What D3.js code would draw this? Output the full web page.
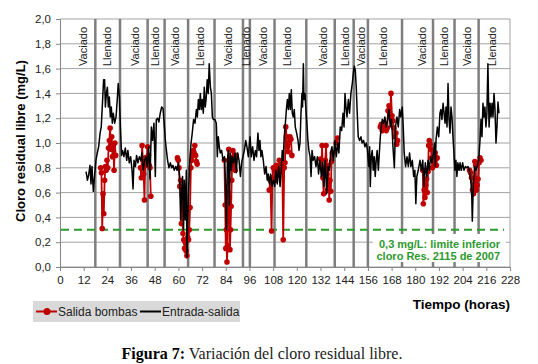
<!DOCTYPE html>
<html>
<head>
<meta charset="utf-8">
<script src="https://cdn.jsdelivr.net/npm/d3@7"></script>
<style>
  body { margin: 0; background: #fff; }
  svg text { font-family: "Liberation Sans", Arial, sans-serif; }
</style>
</head>
<body>
<svg id="chart" width="538" height="364"></svg>
<script>
// limites de las fases (horas) y etiquetas de cada fase
const phaseHours = [17.9, 30.4, 44.4, 53.0, 64.9, 78.3, 92.7, 96.2, 108.7, 124.8, 139.2, 148.8, 156.0, 173.3, 189.0, 199.9, 212.1];
const phaseLabels = ["Vaciado", "Llenado", "Vaciado", "Llenado", "Vaciado", "Llenado", "Vaciado", "Llenado", "Vaciado",
  "Llenado", "Vaciado", "Llenado", "Vaciado", "Llenado", "Vaciado", "Llenado", "Vaciado", "Llenado"];
const labelHours = [11.7, 23.8, 38.0, 48.1, 58.3, 70.9, 85.1, 94.2, 102.8, 115.0, 133.2, 144.4, 152.5, 163.6, 183.4, 194.5, 206.2, 218.8];

const xTicks = d3.range(0, 229, 12);
const yTicks = d3.range(0, 2.01, 0.2);
const limite = 0.3;

// Entrada-salida [hora, mg/L]
const entradaSalida = [
  [13.2,0.77],[13.9,0.70],[14.5,0.74],[15.2,0.82],[15.7,0.67],[16.2,0.81],[16.9,0.61],[17.6,0.75],[18.2,0.86],[18.9,0.92],
  [19.6,0.97],[20.3,1.08],[20.9,1.13],[21.6,1.35],[22.1,1.51],[22.6,1.51],[23.0,1.29],[23.5,1.40],[24.0,1.45],[24.5,1.29],
  [25.0,1.37],[25.5,1.21],[26.0,1.29],[26.5,1.16],[27.0,1.24],[27.7,1.16],[28.4,1.21],[29.0,1.35],[29.5,1.48],[30.1,1.37],
  [30.6,1.13],[31.2,0.90],[31.7,0.94],[32.4,0.89],[33.1,0.96],[33.8,0.86],[34.4,0.94],[35.1,0.84],[35.8,0.89],[36.5,0.78],
  [37.0,0.63],[37.5,0.86],[38.2,0.81],[38.8,0.90],[39.5,0.84],[40.2,0.89],[40.9,0.86],[41.5,0.92],[42.2,0.78],[42.9,0.86],
  [43.6,0.89],[44.2,0.81],[44.9,0.97],[45.6,0.71],[46.3,1.13],[46.9,1.02],[47.6,1.16],[48.3,0.73],[48.8,1.19],[49.5,1.20],
  [50.1,1.17],[50.8,1.24],[51.5,1.29],[52.2,1.28],[52.9,1.13],[53.5,1.00],
  [54.5,0.86],[55.2,0.80],[55.9,0.84],[56.6,0.80],[57.2,0.82],[57.9,0.78],[58.6,0.81],[59.3,0.78],[59.9,0.84],[60.6,0.73],
  [61.1,0.38],[61.6,0.59],[62.1,0.73],[62.6,0.30],[63.0,0.70],[63.5,0.38],[64.0,0.78],[64.3,0.08],[65.0,0.54],[65.7,0.84],
  [66.4,1.00],[67.0,1.08],[67.7,1.19],[68.4,1.16],[69.1,1.27],[69.6,1.21],[70.1,1.35],[70.6,1.27],[71.1,1.40],[71.6,1.27],
  [72.1,1.35],[72.6,1.24],[73.1,1.45],[73.6,1.29],[74.1,1.37],[74.6,1.51],[75.1,1.40],[75.6,1.64],[76.2,1.45],[76.7,1.40],
  [77.2,1.21],[77.7,1.19],[78.5,1.19],[79.2,1.16],[79.7,0.89],[80.2,1.05],[80.7,0.97],[81.2,0.92],[81.9,0.94],[82.6,0.86],
  [83.3,0.89],[83.8,0.70],[84.3,0.30],[84.8,0.86],[85.3,0.94],[85.8,0.50],[86.3,0.92],[86.8,0.78],[87.3,0.89],[88.0,0.84],
  [88.7,0.92],[89.3,0.76],[90.0,0.92],[90.7,0.86],[91.4,0.73],[92.0,0.84],[92.7,0.89],[93.4,0.94],[94.1,1.02],[94.7,0.97],
  [95.4,0.89],
  [96.3,1.05],[96.9,0.89],[97.6,0.97],[98.3,0.86],[99.0,0.94],[99.6,0.89],[100.3,1.08],[100.8,0.94],[101.3,1.02],[101.8,0.89],
  [102.3,0.94],[103.0,0.86],[103.7,0.75],[104.4,0.81],[105.0,0.70],[105.5,0.75],[106.1,0.67],[106.7,0.75],[107.4,0.65],[108.1,0.70],
  [108.8,0.65],[109.4,0.78],[110.1,0.67],[110.8,0.81],[111.5,0.65],[112.1,0.78],[112.6,0.94],[113.1,0.86],[113.6,1.05],[114.2,1.16],
  [114.7,1.27],[115.2,1.35],[115.7,1.27],[116.2,1.40],[116.7,1.27],[117.2,1.43],[117.7,1.24],[118.2,1.21],[118.7,1.27],[119.2,1.13],
  [119.9,1.08],[120.6,1.02],[121.1,0.94],[121.6,1.00],[122.1,1.24],[122.6,1.40],[122.9,1.29],[123.3,1.64],[123.6,1.35],[124.1,1.40],
  [124.6,1.27],[125.2,1.13],[125.6,1.02],[126.1,0.94],[126.7,0.89],[127.2,0.73],[127.7,0.94],[128.3,0.86],[129.0,0.89],[129.7,0.81],
  [130.4,0.89],[131.0,0.75],[131.7,0.86],[132.4,0.73],[133.1,0.84],[133.7,0.65],[134.4,0.86],[135.1,0.59],[135.8,0.81],[136.5,0.78],
  [137.1,0.92],[137.8,0.97],[138.5,0.86],
  [139.3,1.02],[140.0,0.89],[140.7,1.00],[141.3,0.92],[142.0,1.13],[142.7,1.10],[143.4,1.24],[143.9,1.13],[144.4,1.40],[144.9,1.29],
  [145.4,1.21],[146.1,1.35],[146.7,1.24],[147.4,1.40],[148.1,1.48],[148.6,1.56],[149.1,1.62],[149.6,1.59],[150.1,1.45],[150.6,1.24],
  [151.1,1.05],[151.8,1.02],[152.5,1.05],[153.1,1.00],[153.8,1.02],[154.5,0.97],[155.2,1.00],[155.8,0.94],[156.4,0.81],[156.9,0.97],
  [157.2,0.65],[157.7,0.89],[158.2,0.94],[158.7,0.78],[159.2,0.89],[159.7,0.73],[160.2,0.86],[160.7,0.94],[161.3,0.78],[161.8,0.92],
  [162.3,1.05],[162.8,1.13],[163.3,1.19],[164.0,1.16],[164.6,1.21],[165.3,1.13],[166.0,1.19],[166.7,1.27],[167.3,1.13],[168.0,1.19],
  [168.7,0.97],[169.4,0.80],[170.0,1.13],[170.7,1.21],[171.4,1.13],[172.1,1.27],[172.7,1.21],[173.4,1.29],[173.9,1.13],[174.4,0.92],
  [175.1,0.81],[175.8,0.89],[176.5,0.81],[177.1,0.92],[177.8,0.81],[178.5,0.86],[179.2,0.73],[179.8,0.78],[180.3,0.51],[180.8,0.73],
  [181.5,0.78],
  [182.4,0.86],[183.1,0.78],[183.8,0.86],[184.4,0.65],[185.1,0.84],[185.8,0.73],[186.5,0.86],[187.1,0.78],[187.8,0.89],[188.5,0.84],
  [189.2,0.92],[189.8,1.00],[190.2,0.81],[190.5,1.02],[191.2,1.13],[191.9,1.05],[192.5,1.24],[193.0,1.27],[193.5,1.19],[194.1,1.32],
  [194.6,1.24],[195.1,1.16],[195.6,1.29],[196.1,1.13],[196.6,1.48],[197.1,1.19],[197.6,1.08],[198.1,1.29],[198.6,1.21],[199.1,1.05],
  [199.6,0.92],[200.1,0.78],[200.6,0.86],[201.1,0.73],[201.6,0.84],[202.2,0.78],[202.7,0.84],[203.3,0.78],[204.0,0.84],[204.7,0.78],
  [205.4,0.81],[206.0,0.80],[206.7,0.81],[207.4,0.78],[208.1,0.70],[208.6,0.59],[208.9,0.37],[209.4,0.65],[210.1,0.81],[210.8,0.78],
  [211.4,0.81],[212.1,0.86],[212.8,1.02],[213.3,1.19],[213.8,1.05],[214.3,1.32],[214.8,1.21],[215.3,1.29],[215.8,1.13],[216.3,1.24],
  [216.8,1.64],[217.4,1.13],[217.9,1.32],[218.4,1.21],[218.9,1.32],[219.4,1.21],[219.9,1.40],[220.4,1.27],[220.9,1.00],[221.4,1.13],
  [221.9,1.33],[222.4,1.24]
];

// Salida bombas [hora, mg/L], null = sin medicion
const salidaBombas = [
  [20.6,0.80],[21.0,0.76],[21.4,0.31],[21.8,0.59],[22.2,0.43],[22.6,0.70],[23.0,0.81],[23.4,0.78],[23.8,0.86],[24.2,0.80],
  [24.6,0.96],[25.0,1.02],[25.4,1.12],[25.8,0.95],[26.2,1.05],[26.6,0.89],[27.0,0.98],[27.4,0.78],[27.8,1.00],[28.2,0.90],
  null,
  [40.8,0.80],[41.2,0.72],[41.6,0.98],[42.0,0.86],[42.4,0.75],[42.8,0.54],[43.2,0.88],[43.6,0.82],[44.0,0.84],[44.4,0.97],
  [44.8,0.90],[45.2,0.82],[45.6,0.80],[46.0,0.57],
  null,
  [59.5,0.88],[59.9,0.86],[60.3,0.80],[60.7,0.65],[61.1,0.70],[61.5,0.35],[61.9,0.58],[62.3,0.27],[62.7,0.22],[63.1,0.15],
  [63.5,0.20],[63.9,0.13],[64.3,0.09],[64.7,0.24],[65.1,0.22],[65.5,0.30],[65.9,0.48],[66.3,0.80],[66.7,0.86],[67.1,0.90],
  [67.5,0.94],[67.9,0.92],[68.3,0.98],[68.7,0.90],[69.1,0.85],[69.5,0.83],
  null,
  [83.3,0.86],[83.7,0.50],[84.0,0.15],[84.3,0.30],[84.6,0.04],[84.9,0.17],[85.2,0.60],[85.5,0.95],[85.8,0.56],[86.1,0.14],
  [86.4,0.30],[86.7,0.49],[87.0,0.70],[87.3,0.88],[87.6,0.94],[88.0,0.82],[88.4,0.88],[88.8,0.78],[89.2,0.90],
  null,
  [106.0,0.62],[106.6,0.70],[107.2,0.29],[107.6,0.72],[108.1,0.80],[108.6,0.77],[109.1,0.70],[109.6,0.82],[110.1,0.80],[110.6,0.75],
  [111.1,0.86],[111.6,0.77],[112.1,0.78],[112.6,0.83],[113.1,0.22],[113.6,0.80],[114.0,0.84],[114.4,1.13],[114.8,1.05],[115.2,0.97],
  [115.6,0.93],[116.0,1.00],[116.5,1.05],[117.0,1.03],[117.5,0.90],
  null,
  [132.0,0.87],[132.4,0.80],[132.8,0.98],[133.2,0.72],[133.6,0.59],[134.0,0.80],[134.4,0.86],[134.8,0.98],[135.2,0.75],[135.6,0.62],
  [136.0,0.82],[136.4,0.54],[136.8,0.70],[137.2,0.61],[137.6,0.85],[138.0,0.92],
  null,
  [139.9,1.00],[140.6,1.04],
  null,
  [162.3,1.13],[162.8,1.15],[163.3,1.10],[163.8,1.12],[164.3,1.15],[164.8,1.13],[165.3,1.10],[165.8,1.12],[166.2,1.26],[166.7,1.30],
  [167.2,1.21],[167.7,1.40],[168.2,1.22],[168.7,1.18],[169.2,1.12],[169.7,1.05],[170.2,1.08],[170.6,0.99],[171.0,1.02],
  null,
  [183.8,0.78],[184.1,0.51],[184.5,0.62],[184.9,0.56],[185.3,0.66],[185.7,0.71],[186.1,0.60],[186.5,0.77],[186.8,0.98],[187.1,1.02],
  [187.5,0.99],[187.9,0.95],[188.3,0.88],[188.7,0.80],[189.5,0.84],[190.1,0.92],[190.7,0.82],[191.1,0.88],
  null,
  [207.5,0.78],[208.0,0.76],[208.5,0.72],[209.0,0.62],[209.5,0.59],[209.9,0.66],[210.2,0.85],[210.6,0.82],[211.0,0.62],[211.4,0.66],
  [211.8,0.71],[212.3,0.84],[212.8,0.88],[213.3,0.86]
];

const svg = d3.select("#chart");

const x = d3.scaleLinear().domain([0, 228]).range([60, 510]);
const y = d3.scaleLinear().domain([0, 2]).range([267, 19]);

const red = "#c00000";
const green = "#2e992e";
const comma = d => d3.format(".1f")(d).replace(".", ",");

// rejilla horizontal
svg.append("g").selectAll("line").data(yTicks).enter().append("line")
  .attr("x1", x(0)).attr("x2", x(228))
  .attr("y1", d => y(d)).attr("y2", d => y(d))
  .attr("stroke", "#a3a3a3").attr("stroke-width", 1);

svg.append("line")
  .attr("x1", x(228)).attr("x2", x(228))
  .attr("y1", y(2)).attr("y2", y(0))
  .attr("stroke", "#a3a3a3");

// lineas de cambio de fase
svg.append("g").selectAll("line").data(phaseHours).enter().append("line")
  .attr("x1", d => x(d)).attr("x2", d => x(d))
  .attr("y1", y(2)).attr("y2", y(0))
  .attr("stroke", "#7f7f7f").attr("stroke-width", 2.5);

// etiquetas de fase
svg.append("g").selectAll("text").data(phaseLabels).enter().append("text")
  .attr("transform", (d, i) => `translate(${x(labelHours[i])},27) rotate(-90)`)
  .attr("text-anchor", "end")
  .attr("dy", "0.35em")
  .attr("font-size", 11)
  .attr("fill", "#222")
  .text(d => d);

// limite inferior
svg.append("line")
  .attr("x1", x(0) + 1).attr("x2", x(228) - 6)
  .attr("y1", y(limite)).attr("y2", y(limite))
  .attr("stroke", green).attr("stroke-width", 2)
  .attr("stroke-dasharray", "8,5");

svg.append("rect")
  .attr("x", 373).attr("y", 234).attr("width", 133).attr("height", 28)
  .attr("fill", "#fff");

const note = svg.append("g")
  .attr("font-size", 11).attr("font-weight", "bold")
  .attr("fill", green).attr("text-anchor", "end");
note.append("text").attr("x", 500).attr("y", 248).text("0,3 mg/L: limite inferior");
note.append("text").attr("x", 500).attr("y", 260).text("cloro Res. 2115 de 2007");

// series
const line = d3.line()
  .defined(d => d !== null)
  .x(d => x(d[0]))
  .y(d => y(d[1]));

svg.append("path")
  .datum(salidaBombas)
  .attr("d", line)
  .attr("fill", "none")
  .attr("stroke", red)
  .attr("stroke-width", 1.8);

svg.append("g").selectAll("circle").data(salidaBombas.filter(d => d !== null)).enter().append("circle")
  .attr("cx", d => x(d[0]))
  .attr("cy", d => y(d[1]))
  .attr("r", 2.8)
  .attr("fill", red);

svg.append("path")
  .datum(entradaSalida)
  .attr("d", line)
  .attr("fill", "none")
  .attr("stroke", "#000")
  .attr("stroke-width", 1.5)
  .attr("stroke-linejoin", "round");

// ejes
const yAxis = svg.append("g")
  .attr("transform", `translate(${x(0)},0)`)
  .call(d3.axisLeft(y).tickValues(yTicks).tickSize(4).tickPadding(5).tickFormat(comma));

const xAxis = svg.append("g")
  .attr("transform", `translate(0,${y(0)})`)
  .call(d3.axisBottom(x).tickValues(xTicks).tickSize(4).tickPadding(5).tickFormat(d => d));

[yAxis, xAxis].forEach(g => {
  g.select(".domain").attr("stroke", "#868686");
  g.selectAll(".tick line").attr("stroke", "#868686");
  g.selectAll(".tick text")
    .attr("font-size", 11.5)
    .attr("fill", "#222");
});

// titulos
svg.append("text")
  .attr("transform", "translate(20,141) rotate(-90)")
  .attr("text-anchor", "middle")
  .attr("dy", "0.35em")
  .attr("font-size", 13)
  .attr("font-weight", "bold")
  .text("Cloro residual libre (mg/L)");

svg.append("text")
  .attr("x", 510).attr("y", 309)
  .attr("text-anchor", "end")
  .attr("font-size", 13.5)
  .attr("font-weight", "bold")
  .text("Tiempo (horas)");

// leyenda
const legend = svg.append("g");
legend.append("rect")
  .attr("x", 33).attr("y", 301).attr("width", 207).attr("height", 21)
  .attr("fill", "#d9d9d9");
legend.append("line")
  .attr("x1", 36).attr("x2", 57).attr("y1", 311.5).attr("y2", 311.5)
  .attr("stroke", red).attr("stroke-width", 2);
legend.append("circle")
  .attr("cx", 47).attr("cy", 311.5).attr("r", 3.5).attr("fill", red);
legend.append("text")
  .attr("x", 58).attr("y", 315.5).attr("font-size", 12).attr("fill", "#222")
  .text("Salida bombas");
legend.append("line")
  .attr("x1", 140).attr("x2", 161).attr("y1", 311.5).attr("y2", 311.5)
  .attr("stroke", "#000").attr("stroke-width", 2);
legend.append("text")
  .attr("x", 162).attr("y", 315.5).attr("font-size", 12).attr("fill", "#222")
  .text("Entrada-salida");

// pie de figura
const caption = svg.append("text")
  .attr("x", 262).attr("y", 359)
  .attr("text-anchor", "middle")
  .style("font-family", "'Liberation Serif', 'Times New Roman', serif")
  .attr("font-size", 16)
  .attr("fill", "#222");
caption.append("tspan").attr("font-weight", "bold").attr("fill", "#000").text("Figura 7:");
caption.append("tspan").text(" Variación del cloro residual libre.");
</script>
</body>
</html>
